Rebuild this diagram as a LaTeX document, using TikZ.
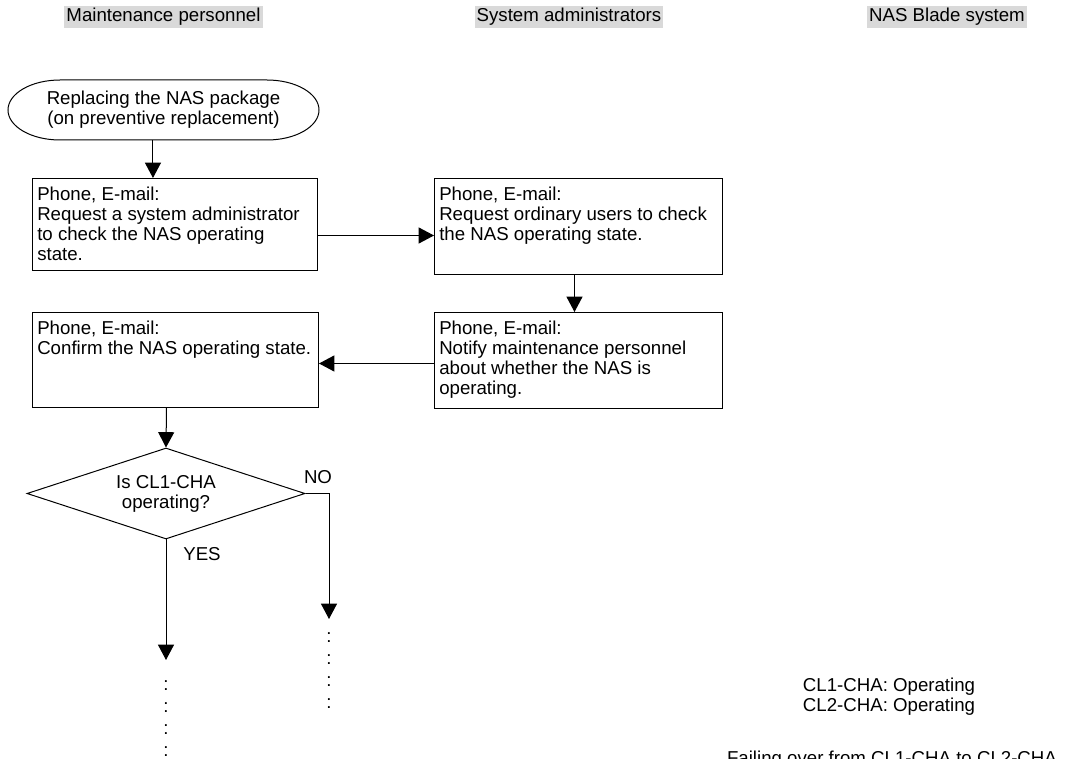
\documentclass[tikz,border=0pt]{standalone}
\usepackage{fontspec}
\setmainfont{Liberation Sans}
\usetikzlibrary{arrows.meta,shapes.geometric}
\definecolor{lanegray}{RGB}{217,217,217}
\tikzset{
  txt/.style={font=\fontsize{14pt}{15pt}\selectfont},
  lane/.style={txt, fill=lanegray, inner xsep=1.5pt, inner ysep=1pt, text height=11pt, text depth=3.5pt},
  procbox/.style={draw, line width=0.75pt, anchor=north west, inner sep=0pt},
  boxtext/.style={txt, anchor=north west, align=left, inner xsep=3.75pt, inner ysep=6.5pt},
  decision/.style={draw, diamond, aspect=3, inner sep=0pt, line width=0.75pt, txt, align=center},
  flow/.style={line width=0.75pt, -{Triangle[length=11.5pt,width=12pt]}},
  more/.style={align=center, inner sep=0pt, anchor=north, font=\fontsize{14pt}{16.5pt}\selectfont},
}
\begin{document}
\begin{tikzpicture}[x=0.75pt,y=0.75pt,yscale=-1,xscale=1]
\useasboundingbox (0,0) rectangle (1076,759);
\clip (0,0) rectangle (1076,759);
% Text Node
\node[lane] (maint) at (163.5,17) {Maintenance personnel};
% Text Node
\node[lane] (sysadm) at (569,17) {System administrators};
% Text Node
\node[lane] (nasblade) at (947,17) {NAS Blade system};

\node[txt, align=center, minimum width=233.25pt, minimum height=45pt, inner sep=0pt] (start) at (163.5,110) {Replacing the NAS package\\(on preventive replacement)};
\draw[line width=0.75pt] (60,80) -- (267,80) .. controls (295.7,80) and (319,93.4) .. (319,110) .. controls (319,126.6) and (295.7,140) .. (267,140) -- (60,140) .. controls (31.3,140) and (8,126.6) .. (8,110) .. controls (8,93.4) and (31.3,80) .. (60,80) -- cycle;

\node[procbox, minimum width=213.75pt, minimum height=69pt] (reqadmin) at (32,178) {};
\node[boxtext] (reqadmintext) at (reqadmin.north west) {Phone, E-mail:\\Request a system administrator\\to check the NAS operating\\state.};
\node[procbox, minimum width=216pt, minimum height=72pt] (requsers) at (434,178) {};
\node[boxtext] (requserstext) at (requsers.north west) {Phone, E-mail:\\Request ordinary users to check\\the NAS operating state.};
\node[procbox, minimum width=216pt, minimum height=72pt] (notify) at (434,312) {};
\node[boxtext] (notifytext) at (notify.north west) {Phone, E-mail:\\Notify maintenance personnel\\about whether the NAS is\\operating.};
\node[procbox, minimum width=214.5pt, minimum height=71.25pt] (confirm) at (32,312) {};
\node[boxtext] (confirmtext) at (confirm.north west) {Phone, E-mail:\\Confirm the NAS operating state.};

\node[decision, minimum width=208.5pt, minimum height=68.25pt] (check) at (166,493.5) {Is CL1-CHA\\operating?};
\coordinate (yesend) at (166,660);
\coordinate (noend) at (329,619);

\draw[flow] ([xshift=-7.9pt]start.south) -- ([xshift=-7.9pt]start.south |- reqadmin.north);
\draw[flow] ([yshift=8.25pt]reqadmin.east) -- ([yshift=8.25pt]reqadmin.east -| requsers.west);
\draw[flow] ([xshift=-3pt]requsers.south) -- ([xshift=-3pt]requsers.south |- notify.north);
\draw[flow] ([yshift=2.25pt]notify.west) -- ([yshift=2.25pt]notify.west -| confirm.east);
\draw[flow] ([xshift=-6.75pt]confirm.south) -- (check.north);
\draw[flow] (check.south) -- (yesend);
\draw[flow] (check.east) -| (noend);
% Text Node
\node[txt] (nolabel) at (318,477.5) {NO};
% Text Node
\node[txt] (yeslabel) at (202,554) {YES};
\node[more] (yesmore) at (166,680) {:\\:\\:\\:};
\node[more] (nomore) at (329,632) {:\\:\\:\\:};
% Text Node
\node[txt, align=center, anchor=base] (chastate) at (889,711) {CL1-CHA: Operating\\CL2-CHA: Operating};
% Text Node
\node[txt, anchor=base] (failover) at (892,764) {Failing over from CL1-CHA to CL2-CHA};
\end{tikzpicture}
\end{document}
